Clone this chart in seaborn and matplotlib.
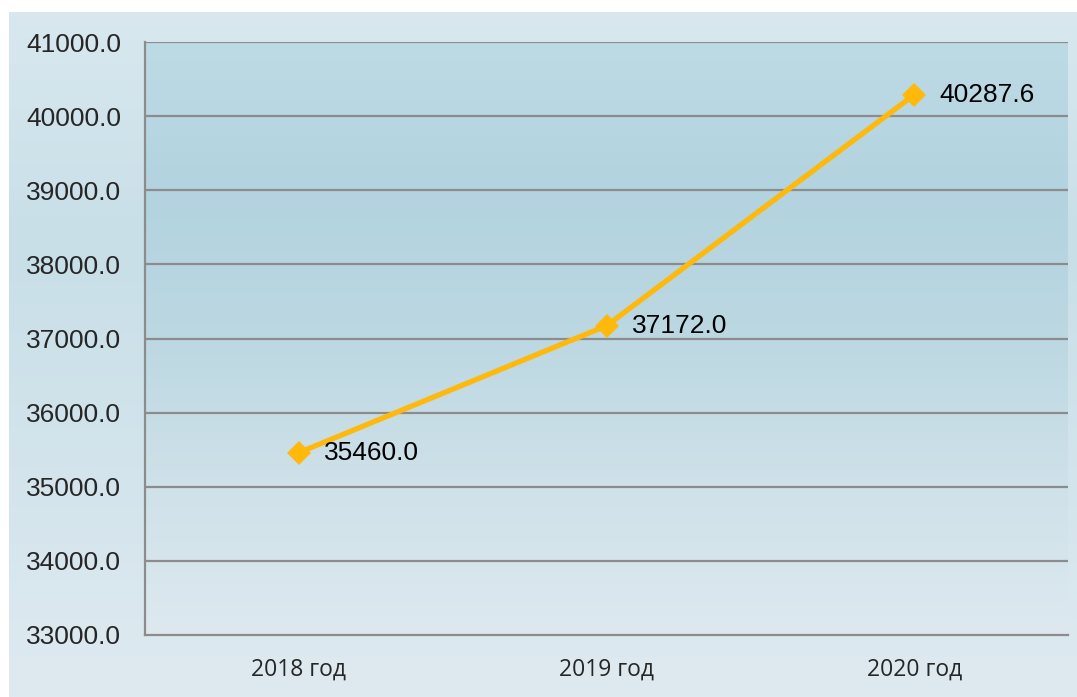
import pandas as pd
import seaborn as sns
import matplotlib
matplotlib.use('Agg')
import matplotlib.pyplot as plt
import numpy as np
from matplotlib.colors import LinearSegmentedColormap

years = ["2018 год", "2019 год", "2020 год"]
values = [35460.0, 37172.0, 40287.6]
y_ticks = [33000, 34000, 35000, 36000, 37000, 38000, 39000, 40000, 41000]

df = pd.DataFrame({"year": years, "value": values})

sns.set_theme(style="white")
plt.rcParams['font.family'] = ['Liberation Sans', 'DejaVu Sans']

W, H = 1077, 697
fig = plt.figure(figsize=(W / 100, H / 100), dpi=100)

# outer panel with soft vertical gradient
bg = fig.add_axes([9 / W, 0, 1 - 9 / W, 1 - 12 / H], zorder=0)
outer_cmap = LinearSegmentedColormap.from_list(
    "outer", ["#d9e8ef", "#c8dfe8", "#d3e4ec", "#dfeaf0"])
bg.imshow(np.linspace(0, 1, 256).reshape(-1, 1), aspect='auto', cmap=outer_cmap,
          extent=[0, 1, 0, 1], origin='upper')
bg.set_axis_off()

ax = fig.add_axes([145 / W, 62 / H, (1068 - 145) / W, (635 - 42) / H], zorder=1)
ax.patch.set_alpha(0)

# plot area gradient
inner_cmap = LinearSegmentedColormap.from_list(
    "inner", ["#bddbe5", "#b2d3df", "#bcd8e2", "#cfe1e9", "#dde9ef"])
ax.imshow(np.linspace(0, 1, 256).reshape(-1, 1), aspect='auto', cmap=inner_cmap,
          extent=[-0.5, 2.5, 33000, 41000], origin='upper', zorder=0)

for t in y_ticks[1:]:
    ax.axhline(t, color="#8c8c8c", lw=1.6, zorder=1)

sns.lineplot(data=df, x="year", y="value", ax=ax, color="#ffb80c", lw=3.8,
             marker="D", markersize=12, markeredgewidth=0, sort=False, zorder=3)

for i, v in enumerate(values):
    ax.annotate(f"{v:.1f}", (i, v), xytext=(18, 0), textcoords="offset points",
                ha="left", va="center", fontsize=19, color="black", zorder=4)

ax.set_xlim(-0.5, 2.5)
ax.set_ylim(33000, 41000)
ax.set_yticks(y_ticks)
ax.set_yticklabels([f"{t:.1f}" for t in y_ticks], fontsize=19)
ax.set_xticks(range(len(years)))
ax.set_xticklabels(years, fontsize=16.5, family=['Open Sans', 'DejaVu Sans'])
ax.tick_params(axis='y', pad=17, length=0)
ax.tick_params(axis='x', pad=16, length=0)
ax.set_xlabel("")
ax.set_ylabel("")

for side in ["top", "right"]:
    ax.spines[side].set_visible(False)
for side in ["left", "bottom"]:
    ax.spines[side].set_color("#8c8c8c")
    ax.spines[side].set_linewidth(1.6)

fig.savefig("out.png", dpi=100, facecolor="white")
